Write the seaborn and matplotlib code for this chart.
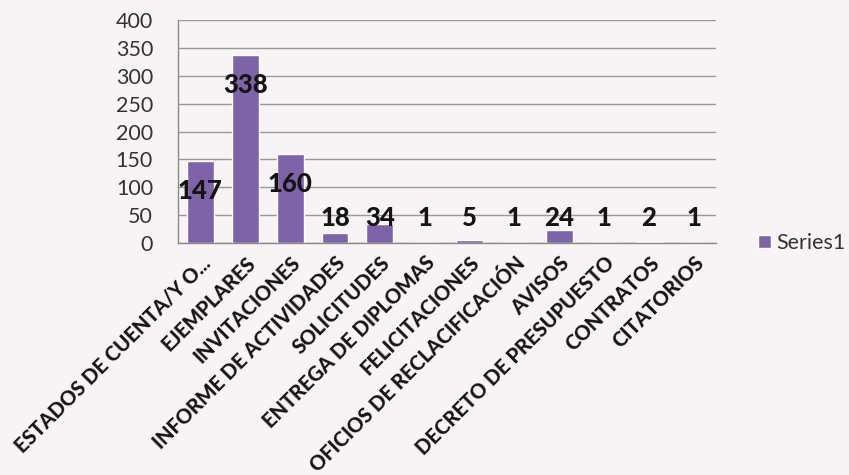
import matplotlib
matplotlib.use("Agg")
import matplotlib.pyplot as plt
import seaborn as sns
import pandas as pd
import numpy as np

categories = ["ESTADOS DE CUENTA/Y O...", "EJEMPLARES", "INVITACIONES",
              "INFORME DE ACTIVIDADES", "SOLICITUDES", "ENTREGA DE DIPLOMAS",
              "FELICITACIONES", "OFICIOS DE RECLACIFICACIÓN", "AVISOS",
              "DECRETO DE PRESUPUESTO", "CONTRATOS", "CITATORIOS"]
values = [147, 338, 160, 18, 34, 1, 5, 1, 24, 1, 2, 1]
yticks = [0, 50, 100, 150, 200, 250, 300, 350, 400]
series_name = "Series1"

bg = "#f8f3f5"
bar_color = "#7f63a8"

sns.set_theme(style="white")
plt.rcParams['font.family'] = ['Lato', 'DejaVu Sans']

df = pd.DataFrame({"cat": categories, "val": values, "series": series_name})

fig = plt.figure(figsize=(8.49, 4.75), dpi=100, facecolor=bg)
ax = fig.add_axes([0.2097, 0.488, 0.634, 0.470])
ax.set_facecolor(bg)

sns.barplot(data=df, x="cat", y="val", hue="series", palette=[bar_color],
            width=0.6, ax=ax, saturation=1, legend=True)

ax.set_ylim(0, 400)
ax.set_yticks(yticks)
ax.set_yticklabels([str(t) for t in yticks], fontsize=15.5, color="#333333")
ax.yaxis.grid(True, color="#9a9a9a", linewidth=1)
ax.set_axisbelow(True)
ax.set_xlabel("")
ax.set_ylabel("")
for s in ["top", "right"]:
    ax.spines[s].set_visible(False)
for s in ["left", "bottom"]:
    ax.spines[s].set_color("#8a8a8a")
    ax.spines[s].set_linewidth(1)
ax.tick_params(axis="y", length=0, pad=18)

ax.set_xticks(range(len(categories)))
ax.set_xticklabels(categories, rotation=45, ha="right", rotation_mode="anchor",
                   fontsize=14.5, fontweight="black", color="#141414")
ax.tick_params(axis="x", length=0, pad=7)

for i, v in enumerate(values):
    ax.text(i, max(v - 54, 45), str(v), ha="center", va="center",
            fontsize=18.5, fontweight="black", color="#141414")

leg = ax.legend(loc="center left", bbox_to_anchor=(1.078, 0.0), frameon=False,
                fontsize=15.5, handlelength=0.6, handleheight=0.6,
                handletextpad=0.25, borderaxespad=0, borderpad=0)
for t in leg.get_texts():
    t.set_color("#333333")

fig.savefig("out.png", dpi=100, facecolor=bg)
